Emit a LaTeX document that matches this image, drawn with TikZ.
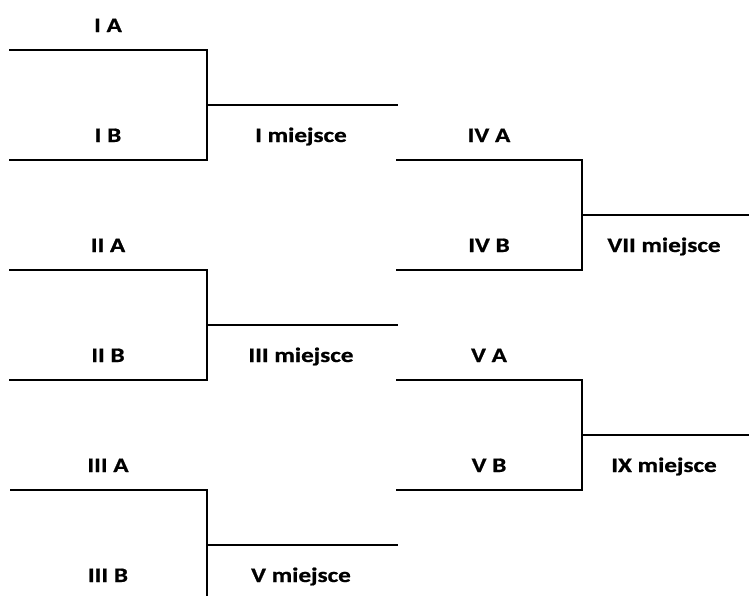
\documentclass[tikz,border=0pt]{standalone}
\usepackage{fontspec}
\setmainfont{Carlito}[FakeStretch=1.22,BoldFeatures={FakeBold=0.8}]
\begin{document}
\begin{tikzpicture}[x=0.75pt,y=-0.75pt,
  wire/.style={line width=1.5pt,line cap=rect},
  lab/.style={font=\bfseries\fontsize{15.5}{18}\selectfont,inner sep=0pt,anchor=base}]
\useasboundingbox (0,0) rectangle (749,596);
% left brackets
\foreach \n/\t in {1/50,2/270,3/490}{
  \coordinate (L\n a) at (10,\t);
  \coordinate (L\n c) at (207,\t);
  \coordinate (L\n d) at (207,\t+110);
  \coordinate (L\n b) at (10,\t+110);
  \coordinate (L\n m) at (207,\t+55);
  \coordinate (L\n e) at (397,\t+55);
}
\draw[wire] (L1a) -- (L1c) -- (L1d) -- (L1b);
\draw[wire] (L1m) -- (L1e);
\draw[wire] (L2a) -- (L2c) -- (L2d) -- (L2b);
\draw[wire] (L2m) -- (L2e);
\coordinate (L3z) at (207,596);
\draw[wire,line cap=butt] (L3a) -- (L3c) -- (L3z);
\draw[wire] (L3m) -- (L3e);
% right brackets
\foreach \n/\t in {1/160,2/380}{
  \coordinate (R\n a) at (397,\t);
  \coordinate (R\n c) at (582,\t);
  \coordinate (R\n d) at (582,\t+110);
  \coordinate (R\n b) at (397,\t+110);
  \coordinate (R\n m) at (582,\t+55);
  \coordinate (R\n e) at (749,\t+55);
}
\draw[wire] (R1a) -- (R1c) -- (R1d) -- (R1b);
\draw[wire,line cap=butt] (R1m) -- (R1e);
\draw[wire] (R2a) -- (R2c) -- (R2d) -- (R2b);
\draw[wire,line cap=butt] (R2m) -- (R2e);
% labels
\node[lab] (t1a) at (108,32) {I A};
\node[lab] (t1b) at (108,142) {I B};
\node[lab] (m1) at (301,142) {I miejsce};
\node[lab] (t2a) at (108,252) {II A};
\node[lab] (t2b) at (108,362) {II B};
\node[lab] (m2) at (301,362) {III miejsce};
\node[lab] (t3a) at (108,472) {III A};
\node[lab] (t3b) at (108,582) {III B};
\node[lab] (m3) at (301,582) {V miejsce};
\node[lab] (t4a) at (489,142) {IV A};
\node[lab] (t4b) at (489,252) {IV B};
\node[lab] (m4) at (664,252) {VII miejsce};
\node[lab] (t5a) at (489,362) {V A};
\node[lab] (t5b) at (489,472) {V B};
\node[lab] (m5) at (664,472) {IX miejsce};
\end{tikzpicture}
\end{document}
